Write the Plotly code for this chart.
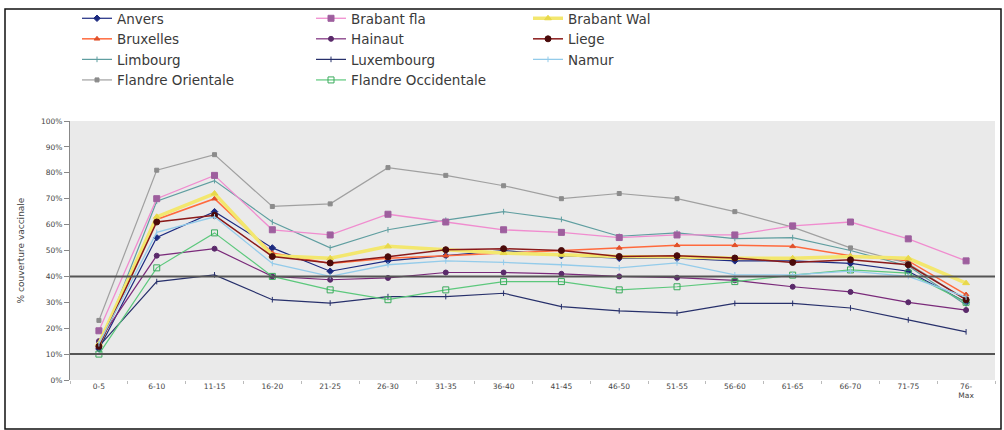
import plotly.graph_objects as go

categories = ["0-5", "6-10", "11-15", "16-20", "21-25", "26-30", "31-35", "36-40",
              "41-45", "46-50", "51-55", "56-60", "61-65", "66-70", "71-75", "76-<br>Max"]

anvers = [12, 55, 65, 51, 42, 46, 48, 50, 48, 47, 47, 46, 46, 45, 42, 30]
brabant_fla = [19, 70, 79, 58, 56, 64, 61, 58, 57, 55, 56, 56, 59.5, 61, 54.5, 46]
brabant_wal = [14, 63, 72, 48, 47, 51.6, 50.3, 49, 48.4, 47.7, 47.6, 47, 47, 47.7, 47, 37.4]
bruxelles = [13, 62, 70, 49, 45, 47, 48, 49, 50, 51, 52, 52, 51.6, 48, 46, 33]
hainaut = [15, 48, 50.7, 40, 38.7, 39.4, 41.5, 41.5, 41, 40, 39.5, 38.5, 36, 34, 30, 27]
liege = [13, 61, 63.6, 47.7, 45.2, 47.6, 50.3, 50.7, 50, 47.7, 48, 47.1, 45.4, 46.4, 44.5, 31]
limbourg = [12, 69, 77, 61, 51, 58, 61.7, 65, 62, 55.5, 56.8, 54.6, 55, 50, 44, 29]
luxembourg = [13, 38, 40.6, 31, 29.7, 32.2, 32.2, 33.5, 28.3, 26.7, 25.8, 29.6, 29.6, 27.8, 23.2, 18.6]
namur = [14, 57, 63, 45, 40, 44.5, 46, 45.4, 44.5, 43.3, 45.2, 40.6, 40.6, 42, 40, 32]
flandre_or = [23, 81, 87, 67, 68, 82, 79, 75, 70, 72, 70, 65, 59, 51, 45, 31]
flandre_occ = [10, 43.3, 56.8, 40, 34.8, 31, 34.8, 38, 38, 34.8, 36, 38, 40.5, 42.5, 41.3, 30]

ref_levels = [10, 40]
y_ticks = [0, 10, 20, 30, 40, 50, 60, 70, 80, 90, 100]
y_tick_labels = [f"{v}%" for v in y_ticks]

series = [
    # name, values, line colour, line width, marker symbol, marker colour, marker size, legend
    ("Anvers", anvers, "#1c2a80", 1.2, "diamond", "#1c2a80", 5, "legend"),
    ("Bruxelles", bruxelles, "#ff6a3d", 1.5, "triangle-up", "#e0502a", 5, "legend"),
    ("Limbourg", limbourg, "#5f9ea0", 1.2, "line-ns", "#5f9ea0", 4, "legend"),
    ("Flandre Orientale", flandre_or, "#a0a0a0", 1.2, "square", "#8c8c8c", 4, "legend"),
    ("Brabant fla", brabant_fla, "#f08ccf", 1.3, "square", "#9e5f9e", 6, "legend2"),
    ("Hainaut", hainaut, "#7a2a7a", 1.2, "circle", "#5a2a6a", 5, "legend2"),
    ("Luxembourg", luxembourg, "#27306b", 1.2, "line-ns", "#27306b", 4, "legend2"),
    ("Flandre Occidentale", flandre_occ, "#5cc87c", 1.2, "square-open", "#3aaa5c", 6, "legend2"),
    ("Brabant Wal", brabant_wal, "#f3e76e", 3.5, "triangle-up", "#e8d84a", 6, "legend3"),
    ("Liege", liege, "#8a1a1a", 1.5, "circle", "#4a0a0a", 6, "legend3"),
    ("Namur", namur, "#93cbea", 1.3, "line-ns", "#93cbea", 4, "legend3"),
]

fig = go.Figure()
for name, vals, lc, lw, sym, mc, ms, lg in series:
    fig.add_trace(go.Scatter(
        x=categories, y=vals, name=name, mode="lines+markers",
        line=dict(color=lc, width=lw),
        marker=dict(symbol=sym, color=mc, size=ms, line=dict(color=mc, width=1)),
        legend=lg,
    ))

for lvl in ref_levels:
    fig.add_shape(type="line", xref="paper", x0=0, x1=1, yref="y", y0=lvl, y1=lvl,
                  line=dict(color="#555555", width=2), layer="above")

# pixel -> paper helpers (plot area 70..995 x 121..380)
L, R, T, B = 70, 995, 121, 380
def px(xp):
    return (xp - L) / (R - L)
def py(yp):
    return (B - yp) / (B - T)

fig.add_shape(type="rect", xref="paper", yref="paper",
              x0=px(5), x1=px(1001), y0=py(429), y1=py(9),
              line=dict(color="#111111", width=1.5), fillcolor="rgba(0,0,0,0)", layer="below")

FONT = "DejaVu Sans, Liberation Sans, Arial, sans-serif"
legend_common = dict(font=dict(family=FONT, size=13.5, color="#3a3a3a"),
                     bgcolor="rgba(0,0,0,0)", xanchor="left", yanchor="top",
                     orientation="v", tracegroupgap=0, itemwidth=30)

fig.update_layout(
    width=1004, height=430,
    margin=dict(l=L, r=1004 - R, t=T, b=430 - B, autoexpand=False),
    paper_bgcolor="white",
    plot_bgcolor="#eaeaea",
    font=dict(family=FONT, color="#333333"),
    showlegend=True,
    legend=dict(x=px(77), y=py(3), **legend_common),
    legend2=dict(x=px(311), y=py(3), **legend_common),
    legend3=dict(x=px(528), y=py(3), **legend_common),
    xaxis=dict(
        type="category", range=[-0.5, len(categories) - 0.5], automargin=False,
        showgrid=False, zeroline=False, showline=False,
        ticks="outside", tickson="boundaries", ticklen=3, tickcolor="#bbbbbb",
        tickfont=dict(size=7.5, color="#444444"),
    ),
    yaxis=dict(
        range=[0, 100], tickvals=y_ticks, ticktext=y_tick_labels, automargin=False,
        showgrid=False, zeroline=False, showline=True, linecolor="#888888", linewidth=1,
        ticks="outside", ticklen=5, tickcolor="#888888",
        tickfont=dict(size=7.5, color="#444444"),
        title=dict(text="% couverture vaccinale", font=dict(size=9, color="#444444"), standoff=14),
    ),
)

fig.write_html("out.html", config={"displayModeBar": False},
               post_script="document.body.style.margin='0';document.body.style.overflow='hidden';")
